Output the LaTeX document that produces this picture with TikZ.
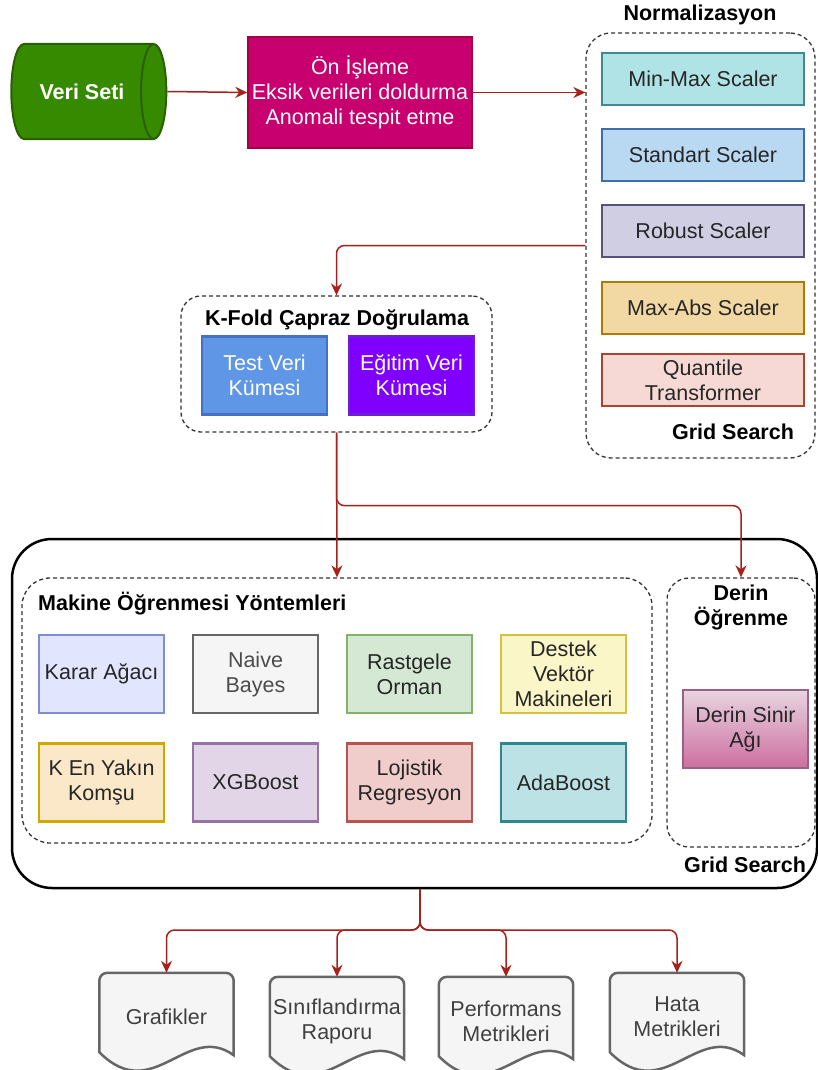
\documentclass[tikz,border=0pt]{standalone}
\usepackage{fontspec}
\setmainfont{Liberation Sans}
\usetikzlibrary{shapes.geometric,arrows.meta,calc,backgrounds}

\definecolor{flowred}{HTML}{A8201A}
\definecolor{vsfill}{HTML}{368A00}
\definecolor{vsline}{HTML}{2A5E00}
\definecolor{onfill}{HTML}{C8006F}
\definecolor{online}{HTML}{A50040}
\definecolor{mmfill}{HTML}{B0E3E6}
\definecolor{mmline}{HTML}{3E8A8F}
\definecolor{stfill}{HTML}{B9D9F2}
\definecolor{stline}{HTML}{3C6FA8}
\definecolor{rbfill}{HTML}{D0CEE2}
\definecolor{rbline}{HTML}{56517E}
\definecolor{mafill}{HTML}{F2D9A4}
\definecolor{maline}{HTML}{B07A00}
\definecolor{qtfill}{HTML}{F6D9D4}
\definecolor{qtline}{HTML}{AE4132}
\definecolor{tsfill}{HTML}{5F97E6}
\definecolor{tsline}{HTML}{4471C4}
\definecolor{egfill}{HTML}{7F00FF}
\definecolor{egline}{HTML}{6A1FD0}
\definecolor{kafill}{HTML}{E1E5FD}
\definecolor{kaline}{HTML}{7F8FD6}
\definecolor{nbfill}{HTML}{F5F5F5}
\definecolor{nbline}{HTML}{666666}
\definecolor{rofill}{HTML}{D5E8D4}
\definecolor{roline}{HTML}{82B366}
\definecolor{dvfill}{HTML}{FBF6C8}
\definecolor{dvline}{HTML}{D6C040}
\definecolor{knfill}{HTML}{FBE8C8}
\definecolor{knline}{HTML}{D0A800}
\definecolor{xgfill}{HTML}{E1D5E7}
\definecolor{xgline}{HTML}{9673A6}
\definecolor{ljfill}{HTML}{F0CDCB}
\definecolor{ljline}{HTML}{B85450}
\definecolor{adfill}{HTML}{BCE2E6}
\definecolor{adline}{HTML}{2F8891}
\definecolor{dstop}{HTML}{E8D4E0}
\definecolor{dsbot}{HTML}{CD6FA0}
\definecolor{dsline}{HTML}{996185}

\begin{document}
\begin{tikzpicture}[x=1pt,y=-1pt,
  txt/.style={font=\fontsize{21.5}{25}\selectfont, align=center, text=black!85},
  ttl/.style={font=\fontsize{21.5}{25}\selectfont\bfseries, align=center},
  redflow/.style={draw=flowred, line width=1.5pt, rounded corners=8pt,
    -{Stealth[length=12pt,width=11pt]}},
  grp/.style={draw=black!80, dash pattern=on 4pt off 3pt, line width=1.3pt},
  scaler/.style={txt, draw, line width=2.5pt, minimum width=202pt,
    minimum height=52pt, inner sep=2pt},
  algo/.style={txt, draw, line width=2.5pt, minimum width=125pt,
    minimum height=78pt, inner sep=2pt},
  docbox/.style={txt, minimum width=134pt, minimum height=88pt, inner sep=0pt,
    text=black!75},
  docline/.style={draw=black!60, fill=black!4, line width=2.5pt}
]
\useasboundingbox (0,0) rectangle (818,1070);

% input and preprocessing
\node[cylinder, cylinder uses custom fill, cylinder body fill=vsfill,
  cylinder end fill=vsfill, draw=vsline, line width=2pt, minimum height=155pt,
  minimum width=95pt, aspect=1.6, inner sep=0pt, ttl, text=white]
  (veri) at (82,91.5) {Veri Seti};
\node[txt, text=white, fill=onfill, draw=online, line width=1.5pt,
  minimum width=224pt, minimum height=111pt, inner sep=2pt]
  (onis) at (360,92.5) {Ön İşleme\\Eksik verileri doldurma\\Anomali tespit etme};

% normalization group
\node[grp, rounded corners=25pt, minimum width=229pt, minimum height=425pt]
  (normgrp) at (700.5,245.5) {};
\node[ttl] (normttl) at (700,15) {Normalizasyon};
\node[scaler, fill=mmfill, draw=mmline] (minmax) at (703,79) {Min-Max Scaler};
\node[scaler, fill=stfill, draw=stline] (standart) at (703,155) {Standart Scaler};
\node[scaler, fill=rbfill, draw=rbline] (robust) at (703,231) {Robust Scaler};
\node[scaler, fill=mafill, draw=maline] (maxabs) at (703,308) {Max-Abs Scaler};
\node[scaler, fill=qtfill, draw=qtline] (quantile) at (703,380) {Quantile\\Transformer};
\node[ttl] (gs1) at (733,432) {Grid Search};

% cross validation group
\node[grp, rounded corners=20pt, minimum width=311pt, minimum height=136pt]
  (kfold) at (336.5,364) {};
\node[ttl] (kfoldttl) at (337,320) {K-Fold Çapraz Doğrulama};
\node[algo, text=white, fill=tsfill, draw=tsline] (test) at (264.5,375.5) {Test Veri\\Kümesi};
\node[algo, text=white, fill=egfill, draw=egline] (egitim) at (411.5,375.5) {Eğitim Veri\\Kümesi};

% models
\node[draw, line width=2.5pt, rounded corners=40pt, minimum width=805pt,
  minimum height=349pt] (bigbox) at (414.5,713.5) {};
\node[grp, rounded corners=28pt, minimum width=630pt, minimum height=265pt]
  (mlgrp) at (337,710.5) {};
\node[ttl, anchor=west, inner sep=0pt] (mlttl) at (38,604) {Makine Öğrenmesi Yöntemleri};
\node[algo, fill=kafill, draw=kaline] (karar) at (101.5,674) {Karar Ağacı};
\node[algo, fill=nbfill, draw=nbline, text=black!70] (naive) at (255.5,674) {Naive\\Bayes};
\node[algo, fill=rofill, draw=roline] (rastgele) at (409.5,674) {Rastgele\\Orman};
\node[algo, fill=dvfill, draw=dvline] (destek) at (563.5,674) {Destek\\Vektör\\Makineleri};
\node[algo, fill=knfill, draw=knline] (knn) at (101.5,782.5) {K En Yakın\\Komşu};
\node[algo, fill=xgfill, draw=xgline] (xgb) at (255.5,782.5) {XGBoost};
\node[algo, fill=ljfill, draw=ljline] (lojistik) at (409.5,782.5) {Lojistik\\Regresyon};
\node[algo, fill=adfill, draw=adline] (ada) at (563.5,782.5) {AdaBoost};

\node[grp, rounded corners=22pt, minimum width=148pt, minimum height=269pt]
  (dlgrp) at (741,712.5) {};
\node[ttl] (dlttl) at (741,607) {Derin\\Öğrenme};
\node[algo, top color=dstop, bottom color=dsbot, draw=dsline] (dnn) at (745.5,729) {Derin Sinir\\Ağı};
\node[ttl] (gs2) at (745,865) {Grid Search};

% outputs
\node[docbox] (g1) at (166.5,1017) {Grafikler};
\node[docbox] (g2) at (337,1021) {Sınıflandırma\\Raporu};
\node[docbox] (g3) at (506,1021) {Performans\\Metrikleri};
\node[docbox] (g4) at (677,1017) {Hata\\Metrikleri};
\begin{scope}[on background layer]
\foreach \d in {g1,g2,g3,g4}
  \draw[docline] ($(\d.south west)+(0,-9)$) [rounded corners=8pt] -- (\d.north west)
    -- (\d.north east) [sharp corners] -- ($(\d.south east)+(0,-6)$)
    .. controls ($(\d.south east)!0.35!(\d.south west)+(0,-40)$)
    and ($(\d.south west)!0.4!(\d.south east)+(0,45)$) .. cycle;
\end{scope}

% connectors
\coordinate (split1) at ($(kfold.south)+(0,73)$);
\coordinate (hub) at (420,930);
\draw[redflow] (veri.east) -- (onis.west);
\draw[redflow] (onis.east) -- (onis.east -| normgrp.west);
\draw[redflow] (normgrp.west) -| (kfold.north);
\draw[redflow] (kfold.south) -- (mlgrp.north);
\draw[redflow] (kfold.south) -- (split1) -| (dlgrp.north);
\foreach \d in {g1,g2,g3,g4}
  \draw[redflow] (hub |- bigbox.south) -- (hub) -| (\d.north);
\end{tikzpicture}
\end{document}
